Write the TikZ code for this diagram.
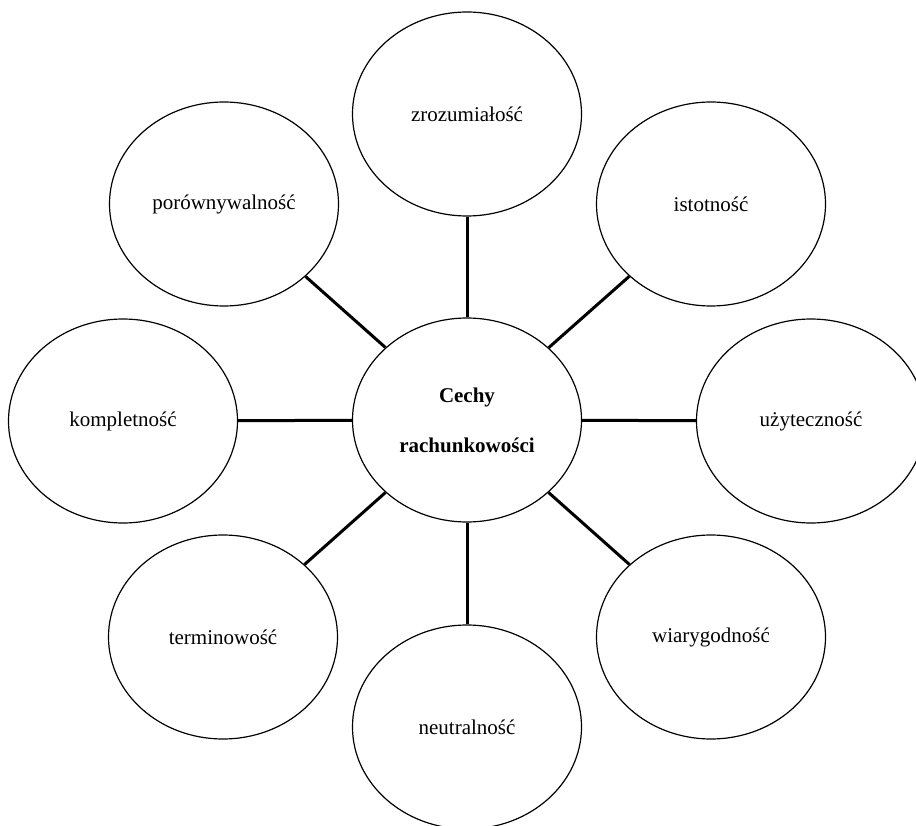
\documentclass[tikz,border=0pt]{standalone}
\usepackage{fontspec}
\setmainfont{Liberation Serif}
\usetikzlibrary{shapes.geometric}
\tikzset{
  bubble/.style={draw=black, line width=1.2pt, ellipse, inner sep=0pt,
    minimum width=229pt, minimum height=204pt, fill=white,
    font=\fontsize{21}{25}\selectfont},
  hub/.style={bubble, font=\fontsize{21}{50}\selectfont\bfseries, align=center},
  link/.style={draw=black, line width=3pt}
}
\begin{document}
\begin{tikzpicture}[x=1pt,y=-1pt]
\useasboundingbox[fill=white] (0,0) rectangle (916,826);
\node[hub] (c) at (467,420) {Cechy\\rachunkowości};
\node[bubble] (zro) at (467,114) {zrozumiałość};
\node[bubble] (ist) at (711,204) {istotność};
\node[bubble] (uzy) at (811,421) {użyteczność};
\node[bubble] (wia) at (711,637) {wiarygodność};
\node[bubble] (neu) at (467,727) {neutralność};
\node[bubble] (ter) at (223,637) {terminowość};
\node[bubble] (kom) at (123,421) {kompletność};
\node[bubble] (por) at (224,204) {porównywalność};
\foreach \n in {zro,ist,uzy,wia,neu,ter,kom,por}
  \draw[link] (c) -- (\n);
\end{tikzpicture}
\end{document}
